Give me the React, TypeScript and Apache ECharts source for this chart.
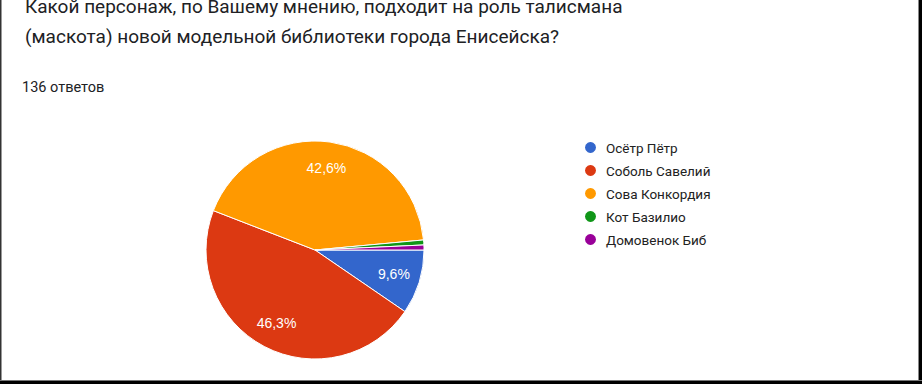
import React, { useEffect, useRef } from "react";
import * as echarts from "echarts";

const titleLines = [
  "Какой персонаж, по Вашему мнению, подходит на роль талисмана",
  "(маскота) новой модельной библиотеки города Енисейска?",
];
const responsesLabel = "136 ответов";
const categories = ["Осётр Пётр", "Соболь Савелий", "Сова Конкордия", "Кот Базилио", "Домовенок Биб"];
const counts = [13, 63, 58, 1, 1];
const colors = ["#3366cc", "#dc3912", "#ff9900", "#109618", "#990099"];

export default function App() {
  const ref = useRef<HTMLDivElement>(null);
  useEffect(() => {
    document.body.style.margin = "0";
    const chart = echarts.init(ref.current!, null, { renderer: "svg" });
    const total = counts.reduce((a, b) => a + b, 0);
    const data = categories.map((name, i) => ({ name, value: counts[i] }));
    const fmt = (p: any) => {
      const pct = (p.value / total) * 100;
      if (pct < 5) return "";
      return pct.toFixed(1).replace(".", ",") + "%";
    };
    const R = 109;
    const center = [315, 250];
    chart.setOption({
      animation: false,
      backgroundColor: "#ffffff",
      color: colors,
      legend: {
        orient: "vertical",
        left: 578,
        top: 135,
        icon: "circle",
        itemWidth: 13,
        itemHeight: 13,
        itemGap: 8,
        selectedMode: false,
        data: categories,
        textStyle: { fontSize: 13.5, color: "#222222", fontFamily: "Roboto, Arial, sans-serif", padding: [0, 0, 0, 4] },
      },
      graphic: [
        {
          type: "text",
          left: 25,
          top: -9,
          style: {
            text: titleLines.join("\n"),
            fontSize: 19,
            lineHeight: 30,
            fill: "#202124",
            fontFamily: "Roboto, Arial, sans-serif",
          },
        },
        {
          type: "text",
          left: 22,
          top: 80,
          style: {
            text: responsesLabel,
            fontSize: 14.5,
            fill: "#202124",
            fontFamily: "Roboto, Arial, sans-serif",
          },
        },
        { type: "rect", shape: { x: 0, y: 0, width: 1.5, height: 384 }, style: { fill: "#333333" } },
        { type: "rect", shape: { x: 918, y: 0, width: 1, height: 384 }, style: { fill: "#888888" } },
        { type: "rect", shape: { x: 919, y: 0, width: 3, height: 384 }, style: { fill: "#000000" } },
        { type: "rect", shape: { x: 0, y: 380, width: 922, height: 1 }, style: { fill: "#777777" } },
        { type: "rect", shape: { x: 0, y: 381, width: 922, height: 3 }, style: { fill: "#000000" } },
      ],
      series: [
        {
          type: "pie",
          center,
          radius: [0, R],
          startAngle: 0,
          clockwise: true,
          data,
          label: { show: false },
          labelLine: { show: false },
          itemStyle: { borderColor: "#ffffff", borderWidth: 1 },
          emphasis: { disabled: true },
          silent: true,
        },
        {
          type: "pie",
          center,
          radius: [R * 0.46, R],
          startAngle: 0,
          clockwise: true,
          data,
          legendHoverLink: false,
          itemStyle: { color: "rgba(0,0,0,0)", borderWidth: 0 },
          label: {
            show: true,
            position: "inside",
            formatter: fmt,
            color: "#ffffff",
            fontSize: 14,
            fontFamily: "Arial, sans-serif",
          },
          labelLine: { show: false },
          emphasis: { disabled: true },
          silent: true,
        },
      ],
    });
    return () => chart.dispose();
  }, []);
  return <div ref={ref} style={{ width: 922, height: 384 }} />;
}
